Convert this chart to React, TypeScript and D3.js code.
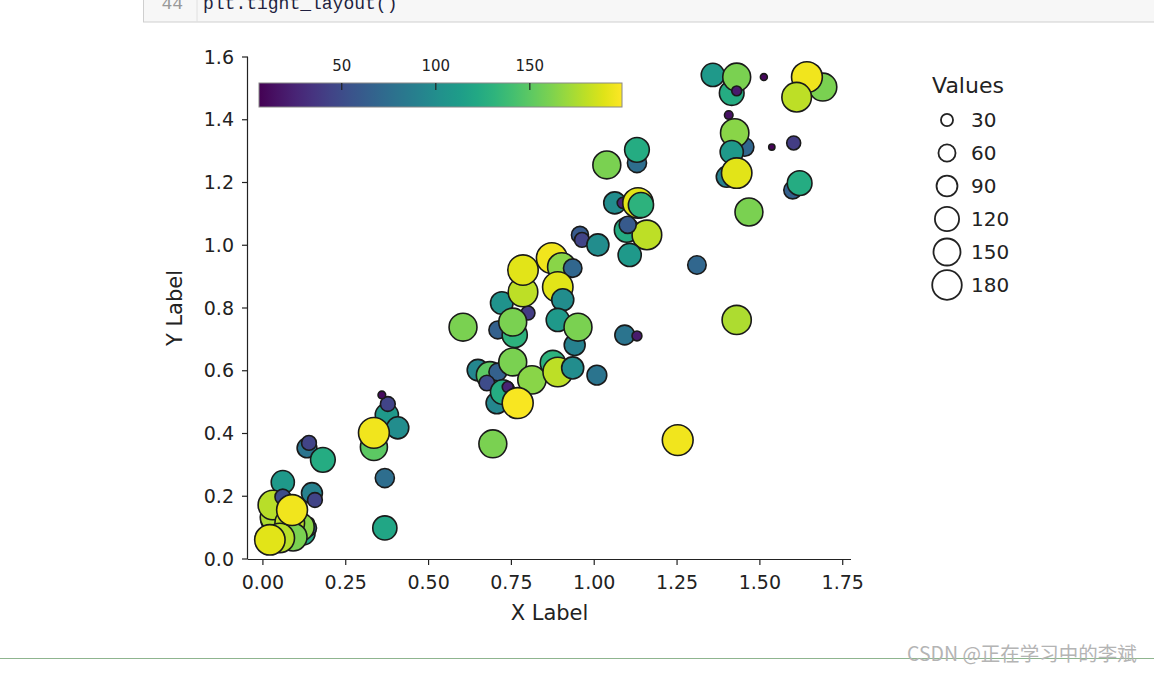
import * as d3 from "d3";

// scatter data (x, y, value -> colour and size)
const xVals = [
  0.060, 0.027, 0.036, 0.030, 0.121, 0.136, 0.142, 0.112, 0.081, 0.091, 0.051, 0.021,
  0.060, 0.148, 0.157, 0.088, 0.133, 0.139, 0.181,
  0.335, 0.374, 0.407, 0.335, 0.377, 0.359, 0.368, 0.368,
  0.604, 0.709, 0.721, 0.800, 0.760, 0.754,
  0.872, 0.785, 0.785, 0.902, 0.935, 0.890, 0.905, 0.890, 0.941, 0.951,
  0.649, 0.685, 0.709, 0.676, 0.754, 0.706, 0.724, 0.739, 0.812, 0.769,
  0.875, 0.890, 0.935, 1.008, 0.694,
  1.062, 1.086, 1.132, 1.141, 1.098, 1.159, 1.101, 1.107, 0.957, 0.963, 1.011,
  1.038, 1.129, 1.129, 1.310, 1.092, 1.129, 1.252,
  1.358, 1.415, 1.430, 1.430, 1.512, 1.406, 1.454, 1.424, 1.415, 1.536, 1.602,
  1.400, 1.430, 1.599, 1.620, 1.467, 1.430, 1.690, 1.642, 1.611,
];
const yVals = [
  0.245, 0.124, 0.134, 0.172, 0.083, 0.099, 0.118, 0.102, 0.115, 0.070, 0.067, 0.061,
  0.198, 0.210, 0.188, 0.156, 0.354, 0.370, 0.316,
  0.357, 0.459, 0.418, 0.402, 0.494, 0.523, 0.258, 0.099,
  0.739, 0.730, 0.816, 0.784, 0.714, 0.755,
  0.959, 0.851, 0.921, 0.931, 0.927, 0.867, 0.826, 0.762, 0.682, 0.739,
  0.602, 0.586, 0.596, 0.561, 0.628, 0.497, 0.532, 0.548, 0.571, 0.497,
  0.625, 0.596, 0.609, 0.586, 0.367,
  1.135, 1.135, 1.135, 1.128, 1.049, 1.033, 1.065, 0.969, 1.033, 1.017, 1.001,
  1.256, 1.262, 1.304, 0.937, 0.714, 0.711, 0.379,
  1.543, 1.485, 1.536, 1.492, 1.536, 1.415, 1.313, 1.358, 1.297, 1.313, 1.326,
  1.218, 1.230, 1.176, 1.198, 1.106, 0.762, 1.504, 1.536, 1.472,
];
const values = [
  110, 100, 175, 178, 120, 60, 15, 165, 180, 160, 178, 190,
  50, 90, 45, 195, 80, 45, 125,
  150, 110, 100, 195, 45, 12, 75, 120,
  160, 65, 105, 40, 130, 160,
  195, 180, 190, 165, 70, 190, 100, 110, 90, 160,
  95, 150, 65, 50, 160, 95, 125, 25, 165, 197,
  130, 180, 100, 80, 160,
  100, 25, 190, 130, 125, 180, 60, 110, 60, 45, 100,
  160, 75, 125, 70, 80, 20, 195,
  110, 125, 160, 20, 10, 15, 70, 165, 110, 8, 40,
  90, 190, 65, 125, 160, 175, 160, 195, 180,
];

const xTicks = [0, 0.25, 0.5, 0.75, 1.0, 1.25, 1.5, 1.75];
const yTicks = [0, 0.2, 0.4, 0.6, 0.8, 1.0, 1.2, 1.4, 1.6];
const cbTicks = [50, 100, 150];
const legendValues = [30, 60, 90, 120, 150, 180];

const W = 1154;
const H = 673;
const FONT = "DejaVu Sans, sans-serif";
const INK = "#222";

const x = d3.scaleLinear().domain([-0.045, 1.775]).range([248, 851]);
const y = d3.scaleLinear().domain([0, 1.6]).range([559, 57]);
const color = d3.scaleSequential(d3.interpolateViridis).domain([6, 199]);
const size = d3.scaleSqrt().domain([0, 200]).range([0, 15.6]);
const cb = d3.scaleLinear().domain([6, 199]).range([259, 622]);

export default function App() {
  const [x0, x1] = x.range();
  const [y0, y1] = y.range();
  const stops = d3.range(0, 1.0001, 0.05);

  return (
    <svg
      width={W}
      height={H}
      style={{ position: "absolute", left: 0, top: 0, background: "#fff" }}
      fontFamily={FONT}
    >
      <defs>
        <linearGradient id="viridis" x1="0%" x2="100%" y1="0%" y2="0%">
          {stops.map((t) => (
            <stop key={t} offset={`${t * 100}%`} stopColor={d3.interpolateViridis(t)} />
          ))}
        </linearGradient>
      </defs>

      {/* notebook code cell */}
      <rect x={143.5} y={-2} width={1020} height={24} fill="#f7f7f7" stroke="#cfcfcf" />
      <line x1={197} x2={197} y1={-2} y2={22} stroke="#e0e0e0" />
      <text x={183} y={9} fontSize={18} fill="#999" textAnchor="end" fontFamily="Liberation Mono, monospace">44</text>
      <text x={203} y={9} fontSize={18} fill="#1f1f3f" fontFamily="Liberation Mono, monospace">plt.tight_layout()</text>

      {/* points */}
      <g>
        {values.map((v, i) => (
          <circle
            key={i}
            cx={x(xVals[i])}
            cy={y(yVals[i])}
            r={size(v)}
            fill={color(v)}
            stroke="#1a1a1a"
            strokeWidth={1.6}
          />
        ))}
      </g>

      {/* axes: left and bottom spines only */}
      <line x1={x0} x2={x1} y1={y0 + 0.5} y2={y0 + 0.5} stroke={INK} strokeWidth={1.2} />
      <line x1={x0 - 0.5} x2={x0 - 0.5} y1={y0} y2={y1} stroke={INK} strokeWidth={1.2} />
      {xTicks.map((t) => (
        <g key={t} transform={`translate(${x(t)},${y0})`}>
          <line y1={0} y2={6} stroke={INK} strokeWidth={1.2} />
          <text y={30} textAnchor="middle" fontSize={19} fill={INK}>{t.toFixed(2)}</text>
        </g>
      ))}
      {yTicks.map((t) => (
        <g key={t} transform={`translate(${x0},${y(t)})`}>
          <line x1={0} x2={-6} stroke={INK} strokeWidth={1.2} />
          <text x={-14} dy="0.35em" textAnchor="end" fontSize={19} fill={INK}>{t.toFixed(1)}</text>
        </g>
      ))}
      <text x={(x0 + x1) / 2} y={620} textAnchor="middle" fontSize={21} fill={INK}>X Label</text>
      <text transform={`translate(182,${(y0 + y1) / 2}) rotate(-90)`} textAnchor="middle" fontSize={21} fill={INK}>Y Label</text>

      {/* colorbar inset */}
      <rect x={cb.range()[0]} y={83} width={cb.range()[1] - cb.range()[0]} height={24} fill="url(#viridis)" stroke="#888" strokeWidth={1} />
      {cbTicks.map((t) => (
        <g key={t} transform={`translate(${cb(t)},83)`}>
          <line y1={0} y2={7} stroke={INK} strokeWidth={1.2} />
          <text y={-12} textAnchor="middle" fontSize={15} fill={INK}>{t}</text>
        </g>
      ))}

      {/* size legend */}
      <text x={968} y={93} textAnchor="middle" fontSize={22} fill={INK}>Values</text>
      {legendValues.map((v, i) => (
        <g key={v} transform={`translate(947,${120 + i * 33})`}>
          <circle r={size(v)} fill="none" stroke={INK} strokeWidth={1.8} />
          <text x={24} dy="0.35em" fontSize={20} fill={INK}>{v}</text>
        </g>
      ))}

      {/* page footer */}
      <line x1={0} x2={W} y1={658.5} y2={658.5} stroke="#8fb58f" strokeWidth={1} />
      <text x={907} y={661} fontSize={19.5} fill="#b4b4b4" fontFamily="Noto Sans CJK SC, sans-serif">CSDN @正在学习中的李斌</text>
    </svg>
  );
}
